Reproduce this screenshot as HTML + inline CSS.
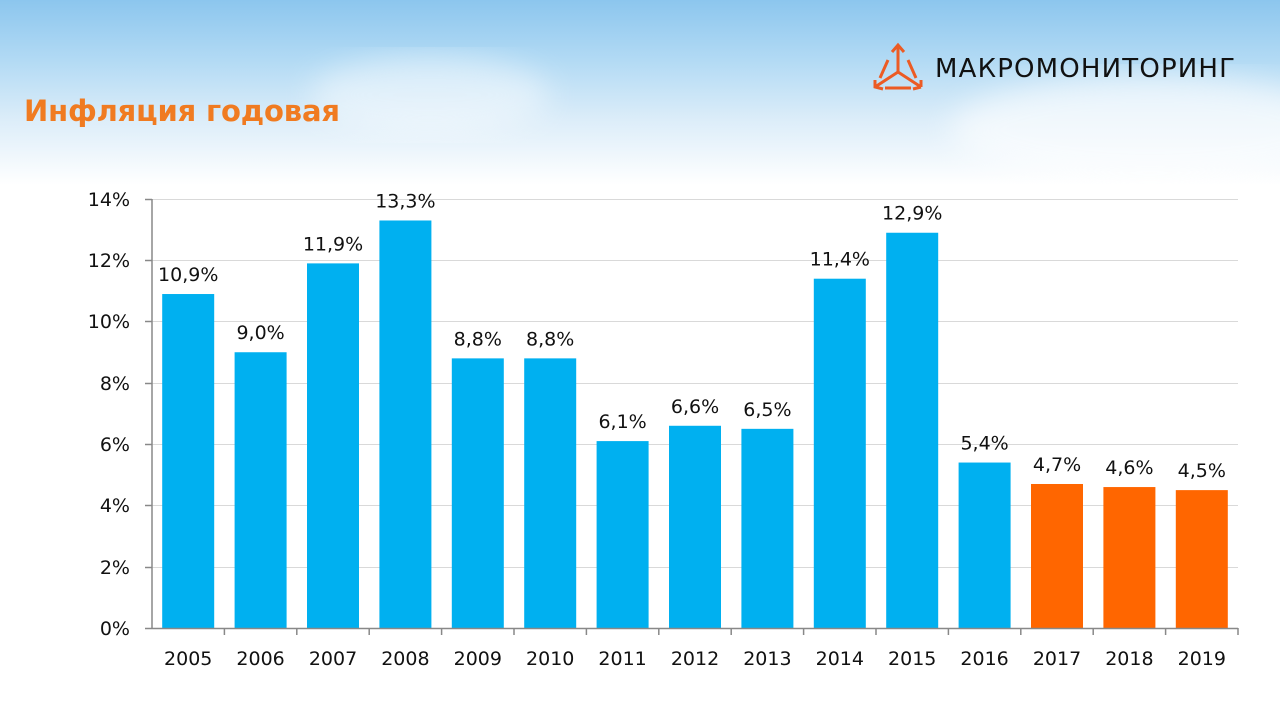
<!DOCTYPE html>
<html><head><meta charset="utf-8"><style>
body{margin:0;width:1280px;height:720px;overflow:hidden;font-family:"Liberation Sans","DejaVu Sans",sans-serif;}
.bg{position:absolute;left:0;top:0;width:1280px;height:720px;background:linear-gradient(180deg,#8cc6ee 0px,#b2daf4 60px,#dcedf9 120px,#ffffff 185px,#ffffff 720px);}
</style></head><body>
<div class="bg"></div>
<svg width="1280" height="720" style="position:absolute;left:0;top:0" font-family="DejaVu Sans, Liberation Sans, sans-serif">
<defs><filter id="bl"><feGaussianBlur stdDeviation="15"/></filter></defs>
<ellipse cx="430" cy="95" rx="120" ry="40" fill="#fff" opacity="0.45" filter="url(#bl)"/>
<ellipse cx="1150" cy="130" rx="200" ry="55" fill="#fff" opacity="0.6" filter="url(#bl)"/>
<text x="24" y="121" font-family="DejaVu Sans, sans-serif" font-weight="bold" font-size="29" fill="#f07b21" textLength="316">Инфляция годовая</text>
<g stroke="#ec5b24" stroke-width="3" fill="none">
<path d="M898 45 L898 72 M892 52 L898 45 L904 52"/>
<path d="M898 72 L875 87 M898 72 L921 87 M875 80 L875 87 L883 89 M921 80 L921 87 M913 89 L921 87"/>
<path d="M888 60 L880 78 M908 60 L916 78 M885 88 L911 88"/>
</g>
<text x="935" y="77" font-family="DejaVu Sans, sans-serif" font-size="26" fill="#111" textLength="300">МАКРОМОНИТОРИНГ</text>
<g stroke="#d9d9d9" stroke-width="1">
<line x1="152" x2="1238" y1="199.5" y2="199.5"/><line x1="152" x2="1238" y1="260.5" y2="260.5"/>
<line x1="152" x2="1238" y1="321.5" y2="321.5"/><line x1="152" x2="1238" y1="383.5" y2="383.5"/>
<line x1="152" x2="1238" y1="444.5" y2="444.5"/><line x1="152" x2="1238" y1="505.5" y2="505.5"/>
<line x1="152" x2="1238" y1="567.5" y2="567.5"/>
</g>
<g font-size="19" fill="#111" text-anchor="end">
<text x="130" y="206">14%</text><text x="130" y="267">12%</text><text x="130" y="328">10%</text>
<text x="130" y="390">8%</text><text x="130" y="451">6%</text><text x="130" y="512">4%</text>
<text x="130" y="574">2%</text><text x="130" y="635">0%</text>
</g>
<g id="bars"></g>
<g stroke="#888" stroke-width="1.5">
<line x1="152" x2="152" y1="199" y2="628"/><line x1="145" x2="1238" y1="628.5" y2="628.5"/>
<line x1="145" x2="152" y1="199.5" y2="199.5"/><line x1="145" x2="152" y1="260.5" y2="260.5"/>
<line x1="145" x2="152" y1="321.5" y2="321.5"/><line x1="145" x2="152" y1="383.5" y2="383.5"/>
<line x1="145" x2="152" y1="444.5" y2="444.5"/><line x1="145" x2="152" y1="505.5" y2="505.5"/>
<line x1="145" x2="152" y1="567.5" y2="567.5"/>
</g>
<g id="ticks" stroke="#888" stroke-width="1.5"></g>
<g id="labels" font-size="19" fill="#111" text-anchor="middle"></g>
</svg>
<script>
var v=[10.9,9.0,11.9,13.3,8.8,8.8,6.1,6.6,6.5,11.4,12.9,5.4,4.7,4.6,4.5];
var ns="http://www.w3.org/2000/svg",b=document.getElementById("bars"),t=document.getElementById("ticks"),l=document.getElementById("labels");
var w=72.4;
for(var i=0;i<15;i++){
 var c=152+w*(i+0.5),y=628-v[i]*30.64;
 var r=document.createElementNS(ns,"rect");r.setAttribute("x",c-26);r.setAttribute("y",y);r.setAttribute("width",52);r.setAttribute("height",628-y);r.setAttribute("fill",i>=12?"#ff6600":"#00b0f0");b.appendChild(r);
 var k=document.createElementNS(ns,"line");var tx=152+w*(i+1);k.setAttribute("x1",tx);k.setAttribute("x2",tx);k.setAttribute("y1",628);k.setAttribute("y2",635);t.appendChild(k);
 var a=document.createElementNS(ns,"text");a.setAttribute("x",c);a.setAttribute("y",y-13);a.textContent=v[i].toFixed(1).replace(".",",")+"%";l.appendChild(a);
 var d=document.createElementNS(ns,"text");d.setAttribute("x",c);d.setAttribute("y",665);d.textContent=2005+i;l.appendChild(d);
}
</script>
</body></html>
